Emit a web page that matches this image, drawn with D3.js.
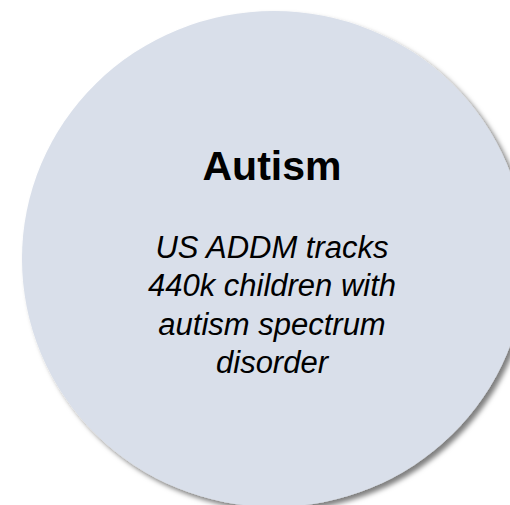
<!DOCTYPE html>
<html>
<head>
<meta charset="utf-8">
<script src="https://cdn.jsdelivr.net/npm/d3@7"></script>
<style>
  body { margin: 0; background: #fff; overflow: hidden; }
</style>
</head>
<body>
<div class="bubble"></div>
<script>
// bubble content
var title = "Autism";
var bodyLines = ["US ADDM tracks", "440k children with", "autism spectrum", "disorder"];

var width = 510, height = 505;

var svg = d3.select(".bubble")
            .append("svg")
            .attr("width", width)
            .attr("height", height)
            .style("display", "block");

// soft shadow down-right
var defs = svg.append("defs");
var f = defs.append("filter")
    .attr("id", "shadow")
    .attr("x", "-10%").attr("y", "-10%")
    .attr("width", "130%").attr("height", "130%");
f.append("feDropShadow")
    .attr("dx", 4).attr("dy", 4)
    .attr("stdDeviation", 2.5)
    .attr("flood-color", "#000")
    .attr("flood-opacity", 0.5);

// slightly wider than tall, runs off the right/bottom edge
svg.append("ellipse")
   .attr("cx", 274)
   .attr("cy", 259)
   .attr("rx", 252)
   .attr("ry", 248)
   .attr("fill", "#d9dfea")
   .attr("filter", "url(#shadow)");

var tx = 272;

svg.append("text")
   .attr("x", tx)
   .attr("y", 180)
   .attr("text-anchor", "middle")
   .style("font-family", "'Liberation Sans', Arial, sans-serif")
   .style("font-weight", "bold")
   .style("font-size", "41px")
   .attr("fill", "#000")
   .text(title);

// body lines, one per row
var lineY = d3.scalePoint()
    .domain(d3.range(bodyLines.length))
    .range([258, 373]);

svg.append("g")
   .selectAll("text")
   .data(bodyLines)
   .enter().append("text")
   .attr("x", tx)
   .attr("y", function(d, i) { return lineY(i); })
   .attr("text-anchor", "middle")
   .style("font-family", "'Liberation Sans', Arial, sans-serif")
   .style("font-style", "italic")
   .style("font-size", "31px")
   .attr("fill", "#000")
   .text(function(d) { return d; });
</script>
</body>
</html>
